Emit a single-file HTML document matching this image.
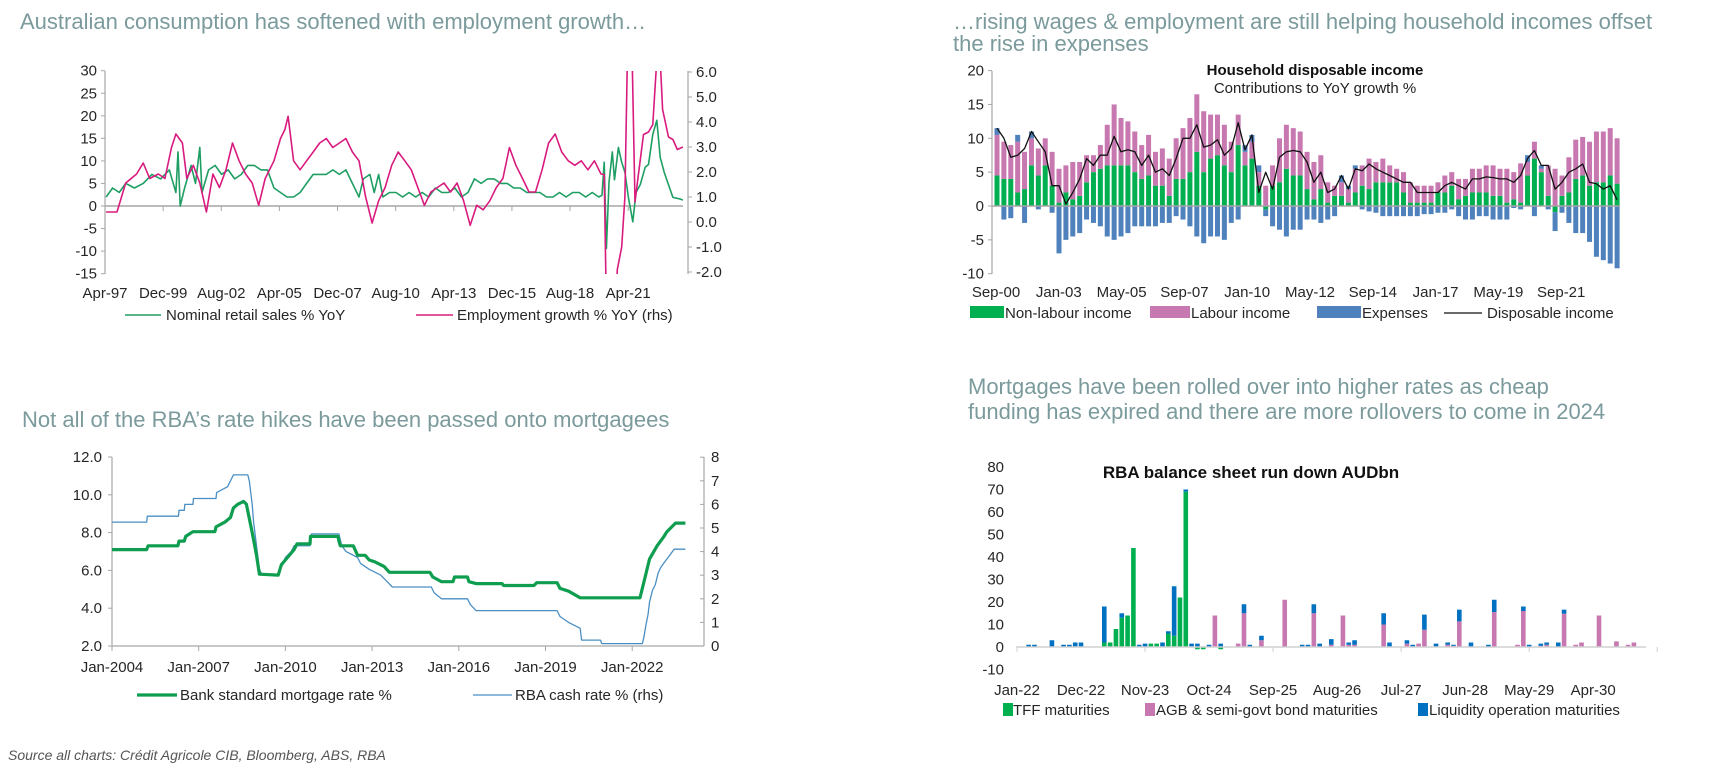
<!DOCTYPE html>
<html><head><meta charset="utf-8"><style>
html,body{margin:0;padding:0;background:#fff;}
svg{display:block;font-family:"Liberation Sans",Arial,sans-serif;}
.t{fill:#7b9a9c;font-size:22px;}
.ax{fill:#262626;font-size:15px;}
.lg{fill:#262626;font-size:15px;}
</style></head><body>
<svg id="root" width="1709" height="775" viewBox="0 0 1709 775">
<defs>
<clipPath id="clip1"><rect x="105" y="71" width="580" height="203"/></clipPath>
</defs>
<text class="t" x="20" y="29">Australian consumption has softened with employment growth…</text>
<text class="t" x="953" y="29">…rising wages &amp; employment are still helping household incomes offset</text>
<text class="t" x="953" y="51">the rise in expenses</text>
<text class="t" x="22" y="427">Not all of the RBA’s rate hikes have been passed onto mortgagees</text>
<text class="t" x="968" y="394">Mortgages have been rolled over into higher rates as cheap</text>
<text class="t" x="968" y="419">funding has expired and there are more rollovers to come in 2024</text>
<text x="8" y="760" style="font-size:14px;font-style:italic;fill:#555">Source all charts: Crédit Agricole CIB, Bloomberg, ABS, RBA</text>

<g id="c1"></g>
<g id="c2">
<text x="1315" y="75" text-anchor="middle" style="font-size:15px;font-weight:bold;fill:#111">Household disposable income</text>
<text x="1315" y="93" text-anchor="middle" style="font-size:15px;fill:#222">Contributions to YoY growth %</text>
</g>
<g id="c3"></g>
<g id="c4">
<text x="1251" y="478" text-anchor="middle" style="font-size:17px;font-weight:bold;fill:#111">RBA  balance sheet run  down AUDbn</text>
</g>
</svg>
<script>
// ---------- Chart 1 data ----------
const retailT = [1997.3,1997.6,1997.9,1998.2,1998.6,1999.0,1999.4,1999.8,2000.2,2000.5,2000.6,2000.7,2000.9,2001.2,2001.4,2001.6,2001.7,2002.0,2002.3,2002.6,2002.9,2003.2,2003.5,2003.8,2004.1,2004.4,2004.7,2005.0,2005.3,2005.6,2005.9,2006.2,2006.5,2006.8,2007.1,2007.4,2007.7,2008.0,2008.3,2008.6,2008.9,2009.1,2009.4,2009.6,2009.8,2010.0,2010.3,2010.6,2010.9,2011.2,2011.5,2011.8,2012.1,2012.4,2012.7,2013.0,2013.3,2013.6,2013.9,2014.2,2014.5,2014.8,2015.1,2015.4,2015.7,2016.0,2016.3,2016.6,2016.9,2017.2,2017.5,2017.8,2018.1,2018.4,2018.7,2019.0,2019.3,2019.6,2019.9,2020.05,2020.15,2020.25,2020.37,2020.52,2020.62,2020.8,2020.95,2021.1,2021.26,2021.46,2021.61,2021.8,2022.03,2022.18,2022.38,2022.56,2022.72,2022.9,2023.1,2023.3,2023.6,2023.76];
const retailV = [2,4,3,5,4,5,7,6,8,3,12,0,4,9,5,13,3,8,9,7,8,6,7,9,9,8,8,4,3,2,2,3,5,7,7,7,8,7,8,5,2,6,7,3,7,2,3,3,2,3,2,3,2,4,3,3,4,2,3,6,5,6,6,5,5,4,4,3,3,3,2,2,3,2,3,3,2,3,2,2.4,9.7,-9.4,5.2,12,5.8,13,9.7,7.5,1.9,-3.5,3,4.7,8.6,9.2,15.9,19,10.8,7.5,4.7,1.9,1.6,1.3];
const empT = [1997.3,1997.8,1998.2,1998.7,1999.0,1999.3,1999.7,2000.0,2000.3,2000.5,2000.8,2001.0,2001.3,2001.6,2001.9,2002.2,2002.5,2002.8,2003.1,2003.4,2003.7,2004.0,2004.3,2004.6,2005.0,2005.3,2005.5,2005.65,2005.9,2006.2,2006.5,2006.8,2007.1,2007.4,2007.7,2008.0,2008.3,2008.6,2008.9,2009.2,2009.5,2009.8,2010.1,2010.4,2010.7,2011.0,2011.3,2011.6,2011.9,2012.2,2012.5,2012.8,2013.1,2013.4,2013.7,2014.0,2014.3,2014.6,2014.9,2015.2,2015.5,2015.8,2016.1,2016.4,2016.7,2017.0,2017.3,2017.6,2017.9,2018.2,2018.5,2018.8,2019.1,2019.4,2019.7,2020.0,2020.15,2020.24,2020.37,2020.63,2020.75,2020.95,2021.1,2021.23,2021.41,2021.56,2021.72,2021.95,2022.18,2022.38,2022.56,2022.72,2022.83,2023.1,2023.3,2023.5,2023.76];
const empV = [0.4,0.4,1.56,1.92,2.36,1.74,1.92,1.74,2.98,3.52,3.16,1.74,2.27,1.56,0.4,1.92,1.38,2.09,3.16,2.45,1.92,1.56,0.67,1.74,2.45,3.34,3.7,4.23,2.45,2.09,2.45,2.8,3.16,3.34,2.98,3.16,3.34,2.8,2.45,1.03,-0.04,0.85,1.38,2.27,2.8,2.45,2.09,1.38,0.67,1.2,1.38,1.56,1.2,1.56,0.85,-0.13,0.67,0.49,0.85,1.38,1.74,2.98,2.27,1.74,1.2,1.2,2.09,3.16,3.52,2.8,2.45,2.27,2.45,2.09,2.45,1.92,1.9,-3,-4.3,-4.3,-1.9,-1.0,1,7.5,7.5,0.8,1.9,3.5,3.6,3.9,6.5,6.5,4.5,3.4,3.3,2.9,3.0];
const c1LeftTicks = [30,25,20,15,10,5,0,-5,-10,-15];
const c1RightTicks = ["6.0","5.0","4.0","3.0","2.0","1.0","0.0","-1.0","-2.0"];
const c1XLabels = ["Apr-97","Dec-99","Aug-02","Apr-05","Dec-07","Aug-10","Apr-13","Dec-15","Aug-18","Apr-21"];

// ---------- Chart 2 data ----------
const c2Green = [4.5,4,4,2,2.5,6,4.5,6,3,0.5,2,1,1.5,3.5,5,5.5,6,6,6,6,5,4,4.5,3,3,1.5,4,4,5,8,5,7,7.5,6,5,9,6,7,3,-0.5,3,3.5,5.5,4.5,4.5,2.5,1,2.5,0.5,1.5,1.5,0.5,2,3,2.5,3.5,3.5,3.5,3.5,2,0.5,0.5,0.5,0.5,2,2,3,1,1.5,2,2,2,1.5,1.5,0.5,1,0.5,4.5,7,5,1.5,-0.9,1.5,2,4,4.5,3,3.5,3.5,4.5,3.3];
const c2Labour = [6,5.5,5,7.5,5.5,4,4,4,5,5,4,5.5,5,4,2.5,3.5,6,9,7,6.5,6,5,6,5,5.5,5.5,6,7.5,8,8.5,9,6.5,6,6,4.5,4.5,2,2.5,2,3,3,6.5,6.5,7,6.5,5.5,5.5,5,3,1.5,2,2,3.5,3,4.5,3,3.5,2.5,2,3,3,2.5,2.5,2.5,1.5,2.5,2,3,2.5,3.5,3.5,4,4.5,4,5,4,5.8,2,2.5,0.5,4.5,5.5,3,5.2,5.8,5.7,6.5,7.5,7.5,7,6.7];
const c2Exp = [1,-2,-1.8,1,-2.5,1,-0.5,0,-1,-7,-5,-4.5,-4,-2,-2.5,-3,-4.5,-5,-4.5,-4,-3,-3,-3,-3,-2.5,-2.5,-1.5,-2,-3,-4.5,-5.5,-4.5,-4.5,-5,-2.5,-2,1,1,1,-1,-3,-3.5,-4.5,-3.5,-3.5,-2,-2,-2.5,-2,-1.5,1,0.5,0.5,-0.5,-0.8,-1,-1.5,-1.5,-1.5,-1.5,-1.5,-1.5,-1.2,-1.2,-1,-1,-0.5,-1.5,-2,-2,-1.5,-1.5,-2,-2,-2,-0.3,-0.5,1,-1.5,0.5,-0.5,-2.8,-1,-2.5,-4,-4,-5.3,-7.5,-8,-8.5,-9.2];
const c2Disp = [11.5,10,7.2,7.5,8.5,11,9.5,8,3,3,0.3,2,4,7,6,7.5,7.5,10.3,8,8.3,8,6,7.5,5,5.5,4.5,7,10,10,12,8.7,9,9.8,7.5,8.5,12.3,8.3,10.5,2,5,2.5,7.2,8,8.2,8,6.5,3.5,5,2,2.5,4.5,2.5,5.5,5.2,6.2,5.5,5,4.5,4,3.5,3.5,2,2,2,2,3,3.5,3,2.5,4,4,4.3,4.2,4,4,3.5,4.5,7,8.2,6,6,2.5,3.5,5,5.5,6.2,3.5,3.3,2.5,3,0.9];
const c2YTicks = [20,15,10,5,0,-5,-10];
const c2XLabels = ["Sep-00","Jan-03","May-05","Sep-07","Jan-10","May-12","Sep-14","Jan-17","May-19","Sep-21"];

// ---------- Chart 3 data ----------
const mortT = [2004.0,2005.2,2005.25,2006.28,2006.32,2006.5,2006.55,2006.8,2007.56,2007.6,2007.9,2008.1,2008.2,2008.35,2008.55,2008.65,2008.85,2009.0,2009.1,2009.75,2009.86,2010.0,2010.3,2010.4,2010.85,2010.87,2011.82,2011.85,2011.9,2012.35,2012.5,2012.76,2012.9,2013.1,2013.42,2013.6,2015.0,2015.1,2015.4,2015.8,2015.85,2016.3,2016.35,2016.6,2017.5,2017.55,2018.6,2018.7,2019.4,2019.5,2019.8,2020.2,2022.27,2022.44,2022.6,2022.86,2023.1,2023.2,2023.5,2023.84];
const mortV = [7.1,7.1,7.3,7.3,7.55,7.55,7.8,8.05,8.05,8.3,8.55,8.8,9.3,9.5,9.65,9.5,8.0,6.8,5.8,5.75,6.3,6.55,7.1,7.4,7.4,7.8,7.8,7.55,7.3,7.3,6.8,6.8,6.55,6.45,6.2,5.9,5.9,5.65,5.4,5.4,5.65,5.65,5.4,5.3,5.3,5.2,5.2,5.35,5.35,5.05,4.9,4.55,4.55,5.6,6.6,7.3,7.8,8.05,8.5,8.5];
const cashT = [2004.0,2005.2,2005.22,2006.3,2006.32,2006.5,2006.52,2006.8,2006.82,2007.6,2007.62,2008.0,2008.1,2008.2,2008.7,2008.75,2008.85,2008.9,2009.0,2009.1,2009.2,2009.75,2009.8,2009.9,2010.0,2010.2,2010.3,2010.85,2010.9,2011.85,2011.9,2011.95,2012.1,2012.5,2012.6,2012.9,2013.3,2013.5,2013.7,2015.05,2015.15,2015.4,2016.3,2016.4,2016.6,2019.4,2019.5,2019.8,2020.2,2020.25,2020.9,2020.95,2022.35,2022.4,2022.47,2022.55,2022.6,2022.7,2022.8,2022.9,2023.0,2023.15,2023.3,2023.45,2023.84];
const cashV = [5.25,5.25,5.5,5.5,5.75,5.75,6.0,6.0,6.25,6.25,6.5,6.75,7.0,7.25,7.25,7.0,6.0,5.25,4.25,3.25,3.0,3.0,3.25,3.5,3.75,4.0,4.25,4.25,4.75,4.75,4.5,4.25,4.0,3.75,3.5,3.25,3.0,2.75,2.5,2.5,2.25,2.0,2.0,1.75,1.5,1.5,1.25,1.0,0.75,0.25,0.25,0.1,0.1,0.35,0.85,1.35,1.85,2.35,2.6,3.1,3.35,3.6,3.85,4.1,4.1];
const c3LeftTicks = ["12.0","10.0","8.0","6.0","4.0","2.0"];
const c3RightTicks = [8,7,6,5,4,3,2,1,0];
const c3XLabels = ["Jan-2004","Jan-2007","Jan-2010","Jan-2013","Jan-2016","Jan-2019","Jan-2022"];

// ---------- Chart 4 data ----------
const c4Month = [2,3,6,8,9,10,11,15,16,17,18,19,20,21,22,23,24,25,26,27,28,29,30,31,32,33,34,35,38,39,40,42,46,49,50,51,52,54,56,57,58,63,64,67,68,69,70,72,74,75,76,78,81,82,86,87,88,90,91,93,94,96,97,100,103,105,106];
const c4Tff =   [0,0,0,0,0,0,0,2,2,8,13,14,44,0,0,1.5,1.5,0,6,5,22,69,0,-1,-1,0,0,-1,0,0,0,0,0,0,0,0,0,0,0,0,0,0,0,0,0,0,0,0,0,0,0,0,0,0,0,0,0,0,0,0,0,0,0,0,0,0,0];
const c4Agb =   [0,0,0,0,0,0,0,0,0,0,0,0,0,0,0,0,0,0,0,0,0,0,0,0,0,0,14,0,1.5,15,0,3,21,0,0,15,0,1,14,1,1,10,0,1.5,0,1.5,7.7,0,1,0.5,11.4,0,0,15.5,1,16,0,0.5,1,0,14.8,1,2,14,2.5,1,2];
const c4Liq =   [1,1,3,1,1,2,2,16,0,0,2,0,0,1,1.5,0,0,2,1,22,0,1,1.5,1.5,0,1,0,1.5,0,4,1,2,0,1,1,4,1.5,2.5,0,1,2,5,2,1.5,1,0,6.7,1.5,1,0.5,5.2,2,1,5.5,0,2,1,1,1,2,1.8,0,0,0,0,0,0];
const c4YTicks = [80,70,60,50,40,30,20,10,0,-10];
const c4XLabels = ["Jan-22","Dec-22","Nov-23","Oct-24","Sep-25","Aug-26","Jul-27","Jun-28","May-29","Apr-30"];

const NS = "http://www.w3.org/2000/svg";
function el(tag, parent) { const e = document.createElementNS(NS, tag); parent.appendChild(e); return e; }
function line(p, x1, y1, x2, y2, col, w) { const e = el("line", p); e.setAttribute("x1", x1); e.setAttribute("y1", y1); e.setAttribute("x2", x2); e.setAttribute("y2", y2); e.setAttribute("stroke", col); e.setAttribute("stroke-width", w); return e; }
function txt(p, x, y, s, anchor, cls) { const e = el("text", p); e.setAttribute("x", x); e.setAttribute("y", y); e.setAttribute("text-anchor", anchor); e.setAttribute("class", cls || "ax"); e.textContent = s; return e; }
function rect(p, x, y, w, h, col) { const e = el("rect", p); e.setAttribute("x", x); e.setAttribute("y", Math.min(y, y + h)); e.setAttribute("width", w); e.setAttribute("height", Math.abs(h)); e.setAttribute("fill", col); return e; }
function poly(p, xs, ys, col, w) { const e = el("polyline", p); e.setAttribute("points", xs.map((x, i) => x.toFixed(1) + "," + ys[i].toFixed(1)).join(" ")); e.setAttribute("fill", "none"); e.setAttribute("stroke", col); e.setAttribute("stroke-width", w); e.setAttribute("stroke-linejoin", "round"); return e; }
const AX = "#a6a6a6";

// ================= Chart 1 =================
(function () {
  const g = document.getElementById("c1");
  const x = t => 105 + (t - 1997.25) * 21.8;
  const yL = v => 206 - v * 4.51;
  const yR = v => 272 - (v + 2) * 25.0;
  const la = line(g, 105, 71, 105, 274, AX, 1.2);
  
  
  const ra = line(g, 688, 71, 688, 274, AX, 1.2);
  
  
  const zl = line(g, 105, 206, 683, 206, AX, 1.5);
  
  
  c1LeftTicks.forEach(v => {
    line(g, 101, yL(v), 105, yL(v), AX, 1);
    const t = txt(g, 97, yL(v) + 5, String(v), "end");
    
    
  });
  c1RightTicks.forEach((s, i) => {
    const v = 6 - i;
    line(g, 688, yR(v), 692, yR(v), AX, 1);
    const t = txt(g, 696, yR(v) + 5, s, "start");
    
    
  });
  c1XLabels.forEach((s, i) => {
    const xx = x(1997.25 + i * 8 / 3);
    line(g, xx, 206, xx, 211, AX, 1);
    const t = txt(g, xx, 298, s, "middle");
    
    
  });
  const cg = el("g", g);
  cg.setAttribute("clip-path", "url(#clip1)");
  const rs = poly(cg, retailT.map(x), retailV.map(yL), "#1f9e63", 1.6);
  
  
  const es = poly(cg, empT.map(x), empV.map(yR), "#d81b7e", 1.6);
  
  
  const l1 = line(g, 125, 315, 161, 315, "#1f9e63", 1.6);
  
  
  const t1 = txt(g, 166, 320, "Nominal retail sales % YoY", "start", "lg");
  
  
  const l2 = line(g, 416, 315, 453, 315, "#d81b7e", 1.6);
  
  
  const t2 = txt(g, 457, 320, "Employment growth % YoY (rhs)", "start", "lg");
  
  
})();

// ================= Chart 2 =================
(function () {
  const g = document.getElementById("c2");
  const x = i => 997 + i * 6.89;
  const y = v => 206 - v * 6.77;
  const bw = 5;
  const la = line(g, 992, 71, 992, 274, AX, 1.2);
  
  
  c2YTicks.forEach(v => {
    line(g, 988, y(v), 992, y(v), AX, 1);
    const t = txt(g, 984, y(v) + 5, String(v), "end");
    
    
  });
  c2Green.forEach((gv, i) => {
    const xx = x(i) - bw / 2;
    const b1 = rect(g, xx, y(0), bw, y(gv) - y(0), "#00b050");
    
    
    const base = Math.max(gv, 0);
    const lv = c2Labour[i];
    const b2 = rect(g, xx, y(base), bw, y(base + lv) - y(base), "#c878b0");
    
    
    const ev = c2Exp[i];
    let b3;
    if (ev >= 0) b3 = rect(g, xx, y(base + lv), bw, y(base + lv + ev) - y(base + lv), "#4f81bd");
    else { const nb = Math.min(gv, 0); b3 = rect(g, xx, y(nb), bw, y(nb + ev) - y(nb), "#4f81bd"); }
    
    
  });
  const zl = line(g, 992, 206, 1620, 206, AX, 1.5);
  
  
  const dl = poly(g, c2Disp.map((v, i) => x(i)), c2Disp.map(y), "#111", 1.3);
  
  
  c2XLabels.forEach((s, k) => {
    const t = txt(g, 996 + k * 62.8, 297, s, "middle");
    
    
  });
  const s1 = rect(g, 970, 306, 34, 12, "#00b050");
  
  
  const t1 = txt(g, 1005, 318, "Non-labour income", "start", "lg");
  
  
  const s2 = rect(g, 1150, 306, 40, 12, "#c878b0");
  
  
  const t2 = txt(g, 1191, 318, "Labour income", "start", "lg");
  
  
  const s3 = rect(g, 1317, 306, 44, 12, "#4f81bd");
  
  
  const t3 = txt(g, 1362, 318, "Expenses", "start", "lg");
  
  
  const s4 = line(g, 1444, 313, 1482, 313, "#111", 1.3);
  
  
  const t4 = txt(g, 1487, 318, "Disposable income", "start", "lg");
  
  
})();

// ================= Chart 3 =================
(function () {
  const g = document.getElementById("c3");
  const x = t => 112 + (t - 2004) * 28.9;
  const yL = v => 646 - (v - 2) * 18.9;
  const yR = v => 646 - v * 23.6;
  const la = line(g, 112, 457, 112, 646, AX, 1.2);
  
  
  const ra = line(g, 704, 457, 704, 646, AX, 1.2);
  
  
  const ba = line(g, 112, 646, 704, 646, AX, 1.2);
  
  
  c3LeftTicks.forEach((s, i) => {
    const v = 12 - 2 * i;
    line(g, 108, yL(v), 112, yL(v), AX, 1);
    const t = txt(g, 102, yL(v) + 5, s, "end");
    
    
  });
  c3RightTicks.forEach(v => {
    line(g, 700, yR(v), 704, yR(v), AX, 1);
    const t = txt(g, 711, yR(v) + 5, String(v), "start");
    
    
  });
  c3XLabels.forEach((s, i) => {
    const xx = x(2004 + 3 * i);
    line(g, xx, 646, xx, 651, AX, 1);
    const t = txt(g, xx, 672, s, "middle");
    
    
  });
  const cl = poly(g, cashT.map(x), cashV.map(yR), "#4a8fc4", 1.3);
  
  
  const ml = poly(g, mortT.map(x), mortV.map(yL), "#0f9d4f", 3.2);
  
  
  const s1 = line(g, 137, 695, 177, 695, "#0f9d4f", 3.2);
  
  
  const t1 = txt(g, 180, 700, "Bank standard mortgage rate %", "start", "lg");
  
  
  const s2 = line(g, 473, 695, 512, 695, "#4a8fc4", 1.3);
  
  
  const t2 = txt(g, 515, 700, "RBA cash rate % (rhs)", "start", "lg");
  
  
})();

// ================= Chart 4 =================
(function () {
  const g = document.getElementById("c4");
  const x = m => 1017 + m * 5.82;
  const y = v => 647 - v * 2.25;
  const bw = 4.6;
  c4YTicks.forEach(v => {
    const t = txt(g, 1004, y(v) + 5, String(v), "end");
    t.setAttribute("fill", "#555");
    
    
  });
  c4Month.forEach((m, i) => {
    const xx = x(m) - bw / 2;
    const tv = c4Tff[i], av = c4Agb[i], lv = c4Liq[i];
    if (tv !== 0) {
      const b = rect(g, xx, y(0), bw, y(tv) - y(0), "#00b050");
      
      
    }
    const base = Math.max(tv, 0);
    if (av !== 0) {
      const b = rect(g, xx, y(base), bw, y(base + av) - y(base), "#c878b0");
      
      
    }
    if (lv !== 0) {
      const b = rect(g, xx, y(base + av), bw, y(base + av + lv) - y(base + av), "#0070c0");
      
      
    }
  });
  const zl = line(g, 1016, 647, 1646, 647, "#d0d0d0", 1.5);
  
  
  for (let k = 0; k <= 5; k++) line(g, x(22 * k), 647, x(22 * k), 652, "#d0d0d0", 1);
  c4XLabels.forEach((s, k) => {
    const t = txt(g, x(11 * k), 695, s, "middle");
    t.setAttribute("fill", "#555");
    
    
  });
  const s1 = rect(g, 1003, 703, 10, 13, "#00b050");
  
  
  const t1 = txt(g, 1013, 715, "TFF maturities", "start", "lg");
  
  
  const s2 = rect(g, 1145, 703, 10, 13, "#c878b0");
  
  
  const t2 = txt(g, 1156, 715, "AGB & semi-govt bond maturities", "start", "lg");
  
  
  const s3 = rect(g, 1418, 703, 10, 13, "#0070c0");
  
  
  const t3 = txt(g, 1429, 715, "Liquidity operation maturities", "start", "lg");
  
  
})();
</script>
</body></html>
